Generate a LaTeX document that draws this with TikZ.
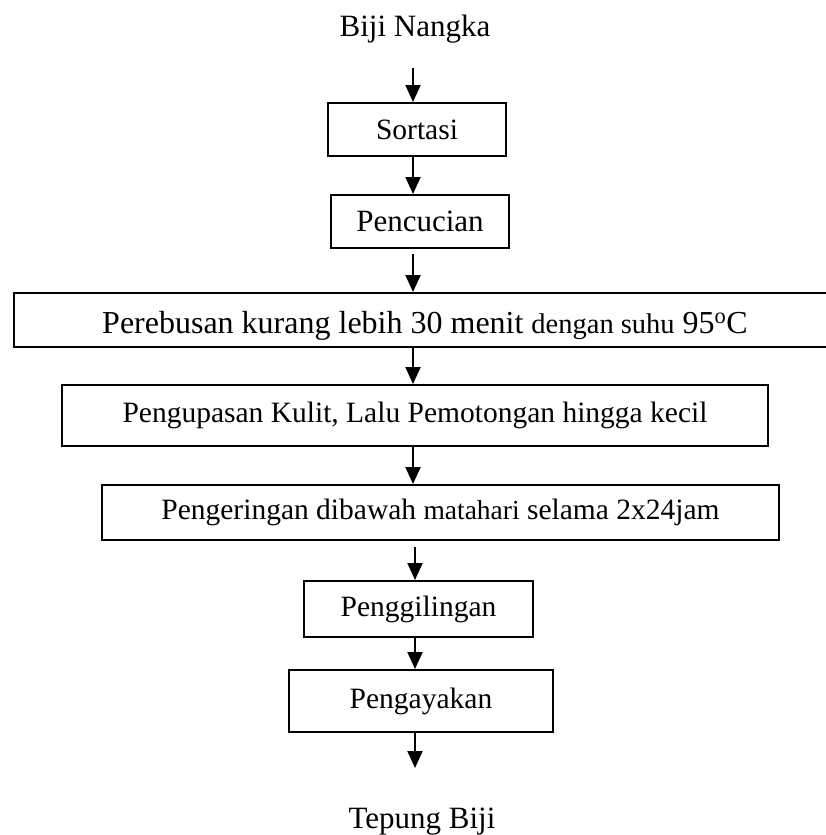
\documentclass[tikz,border=0pt]{standalone}
\usepackage{fontspec}
\setmainfont{Liberation Serif}
\usetikzlibrary{arrows.meta}
\begin{document}
\begin{tikzpicture}[x=1pt,y=-1pt,
  box/.style={draw=black,line width=2pt,inner sep=0pt,minimum height=#1},
  lbl/.style={font=\fontsize{29.5}{34}\selectfont,inner sep=0pt},
  big/.style={font=\fontsize{31}{36}\selectfont,inner sep=0pt},
  arr/.style={line width=2pt,-{Triangle[length=17pt,width=15pt]}}]
\useasboundingbox (0,0) rectangle (826,835);
% title
\node[big,anchor=base] (top) at (415,36) {Biji Nangka};
\coordinate (s0) at (413,68);
% boxes
\node[box=53pt,minimum width=178pt,lbl] (sort) at (417,129.5) {Sortasi};
\node[box=53pt,minimum width=178pt,big] (cuci) at (420,221.5) {Pencucian};
\node[box=54pt,minimum width=826pt] (rebus) at (427,320) {};
\begin{scope}
\clip (rebus.south west) rectangle (rebus.north east);
\node[font=\fontsize{32}{36}\selectfont,inner sep=0pt,anchor=base] (rebust) at (425,333) {Perebusan kurang lebih 30 menit {\fontsize{28.5}{32}\selectfont dengan suhu} 95\textsuperscript{o}C};
\end{scope}
\node[box=61pt,minimum width=706pt,lbl] (kupas) at (415,415.5) {Pengupasan Kulit, Lalu Pemotongan hingga kecil};
\node[box=55pt,minimum width=677pt,lbl] (kering) at (440.5,512.5) {Pengeringan dibawah {\fontsize{27.5}{32}\selectfont matahari} selama 2x24jam};
\node[box=56pt,minimum width=229pt,lbl] (giling) at (418.5,609) {Penggilingan};
\node[box=62pt,minimum width=264pt,lbl] (ayak) at (421,701) {Pengayakan};
\node[big,anchor=base] (tepung) at (422,828) {Tepung Biji};
\coordinate (e0) at (415,768);
% arrows
\draw[arr] (s0) -- (sort.north -| s0);
\draw[arr] (sort.south -| s0) -- (cuci.north -| s0);
\draw[arr] ([yshift=-5pt]cuci.south -| s0) -- (rebus.north -| s0);
\draw[arr] (rebus.south -| s0) -- (kupas.north -| s0);
\draw[arr] (kupas.south -| s0) -- (kering.north -| s0);
\draw[arr] ([yshift=-6pt]kering.south -| e0) -- (giling.north -| e0);
\draw[arr] (giling.south -| e0) -- (ayak.north -| e0);
\draw[arr] (ayak.south -| e0) -- (e0);
\end{tikzpicture}
\end{document}
